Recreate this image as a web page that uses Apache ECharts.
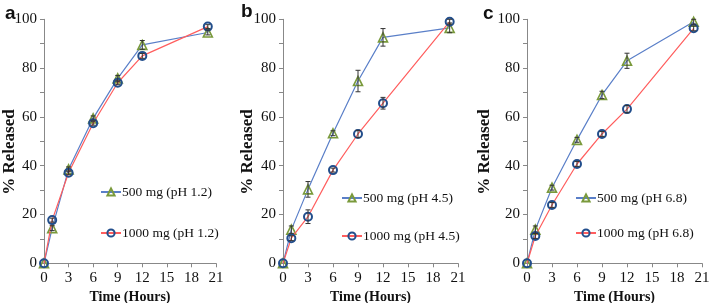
<!DOCTYPE html>
<html><head><meta charset="utf-8">
<script src="https://cdn.jsdelivr.net/npm/echarts@6/dist/echarts.min.js"></script>
<style>html,body{margin:0;padding:0;background:#fff}#c{width:709px;height:303px}</style>
</head><body><div id="c"></div>
<script>
var times = [0, 1, 3, 6, 9, 12, 20];
var panelLetters = ['a', 'b', 'c'];
var seriesNames500 = ['500 mg (pH 1.2)', '500 mg (pH 4.5)', '500 mg (pH 6.8)'];
var seriesNames1000 = ['1000 mg (pH 1.2)', '1000 mg (pH 4.5)', '1000 mg (pH 6.8)'];
var a500 = [0, 14.4, 38.5, 59.4, 75.8, 89.5, 94.6];
var a1000 = [0, 17.7, 37.1, 57.4, 74, 85, 97];
var b500 = [0, 13.8, 30.3, 53.3, 74.7, 92.6, 96.5];
var b1000 = [0, 10.3, 19.1, 38.2, 53, 65.6, 99];
var c500 = [0, 13.8, 31, 50.6, 69, 83, 99];
var c1000 = [0, 11.2, 23.9, 40.7, 53, 63.2, 96.3];
var a500err = [0, 1, 1, 1, 1.2, 1.8, 1];
var a1000err = [0, 0.8, 0.8, 0.8, 0.8, 1, 0.8];
var b500err = [0, 1.5, 3.2, 1, 4.4, 3.6, 2];
var b1000err = [0, 1, 2.8, 0.8, 1.5, 2.4, 1];
var c500err = [0, 1.5, 1, 1, 1.5, 3.1, 1];
var c1000err = [0, 1, 1, 1, 1, 1.5, 1];
var xTicks = [0, 3, 6, 9, 12, 15, 18, 21];
var yTicks = [0, 20, 40, 60, 80, 100];
var xAxisTitle = 'Time (Hours)';
var yAxisTitle = '% Released';

var vals500 = [a500, b500, c500];
var vals1000 = [a1000, b1000, c1000];
var errs500 = [a500err, b500err, c500err];
var errs1000 = [a1000err, b1000err, c1000err];

var FONT = "'Liberation Serif','Times New Roman',serif";
var grids = [
  {left: 44, top: 19.3, width: 172, height: 244},
  {left: 283, top: 19.3, width: 175, height: 244},
  {left: 527, top: 19.3, width: 175, height: 244}
];
var yNameX = [9.5, 247.5, 485];
var letterPos = [{left: 0, top: -1}, {left: 236, top: -3}, {left: 478, top: -1}];
var legendPos = [{left: 100, top: 185, gap: 27}, {left: 341, top: 191, gap: 24}, {left: 575, top: 191, gap: 21}];

var option = {
  animation: false,
  backgroundColor: '#fff',
  title: [], grid: [], xAxis: [], yAxis: [], legend: [], series: [], graphic: []
};

function pairs(vals) { return times.map(function (t, i) { return [t, vals[i]]; }); }
function errData(vals, errs) { return times.map(function (t, i) { return [t, vals[i], errs[i]]; }); }

function renderErr(params, api) {
  var x = api.value(0), y = api.value(1), e = api.value(2);
  if (!e) return null;
  var hi = api.coord([x, y + e]);
  var lo = api.coord([x, y - e]);
  var w = 2.5;
  var st = {stroke: '#333', lineWidth: 1};
  return {type: 'group', children: [
    {type: 'line', shape: {x1: hi[0], y1: hi[1], x2: lo[0], y2: lo[1]}, style: st},
    {type: 'line', shape: {x1: hi[0] - w, y1: hi[1], x2: hi[0] + w, y2: hi[1]}, style: st},
    {type: 'line', shape: {x1: lo[0] - w, y1: lo[1], x2: lo[0] + w, y2: lo[1]}, style: st}
  ]};
}

for (var p = 0; p < 3; p++) {
  option.title.push({text: panelLetters[p], left: letterPos[p].left, top: letterPos[p].top,
    textStyle: {fontFamily: 'Liberation Sans, Arial, sans-serif', fontWeight: 'bold', fontSize: 19, color: '#111'}});
  option.grid.push({left: grids[p].left, top: grids[p].top, width: grids[p].width, height: grids[p].height,
    containLabel: false, outerBoundsMode: 'none'});
  option.graphic.push({
    type: 'text', x: yNameX[p], y: 152, rotation: Math.PI / 2, silent: true,
    style: {text: yAxisTitle, fill: '#111', font: 'bold 17px ' + FONT, align: 'center', verticalAlign: 'middle'}
  });
  option.xAxis.push({
    type: 'value', gridIndex: p, min: 0, max: 21, interval: 3,
    name: xAxisTitle, nameLocation: 'middle', nameGap: 24,
    nameTextStyle: {fontFamily: FONT, fontWeight: 'bold', fontSize: 14, color: '#111'},
    axisLine: {show: true, lineStyle: {color: '#888', width: 1}},
    axisTick: {show: true, length: 4, lineStyle: {color: '#888'}},
    axisLabel: {fontFamily: FONT, fontSize: 15, color: '#111', margin: 7,
      formatter: function (v) { return xTicks.indexOf(v) >= 0 ? String(v) : ''; }},
    splitLine: {show: false}
  });
  option.yAxis.push({
    type: 'value', gridIndex: p, min: 0, max: 100, interval: 10,
    axisLine: {show: true, lineStyle: {color: '#888', width: 1}},
    axisTick: {show: true, length: 4, lineStyle: {color: '#888'}},
    axisLabel: {fontFamily: FONT, fontSize: 15, color: '#111', margin: 7,
      formatter: function (v) { return yTicks.indexOf(v) >= 0 ? String(v) : ''; }},
    splitLine: {show: false}
  });
  option.legend.push({
    orient: 'vertical', left: legendPos[p].left, top: legendPos[p].top,
    itemGap: legendPos[p].gap, itemWidth: 20, itemHeight: 9, padding: 0,
    data: [seriesNames500[p], seriesNames1000[p]],
    textStyle: {fontFamily: FONT, fontSize: 13.5, color: '#111', padding: [0, 0, 0, -4]}
  });
  option.series.push({
    name: seriesNames500[p], type: 'line', xAxisIndex: p, yAxisIndex: p,
    data: pairs(vals500[p]), symbol: 'triangle', symbolSize: 9,
    lineStyle: {color: '#5A7FC8', width: 1.2},
    itemStyle: {color: 'rgba(0,0,0,0)', borderColor: '#7A9A3C', borderWidth: 1.6}, z: 2
  });
  option.series.push({
    name: seriesNames1000[p], type: 'line', xAxisIndex: p, yAxisIndex: p,
    data: pairs(vals1000[p]), symbol: 'circle', symbolSize: 8,
    lineStyle: {color: '#FF5E5E', width: 1.2},
    itemStyle: {color: 'rgba(0,0,0,0)', borderColor: '#224E8C', borderWidth: 2}, z: 3
  });
  option.series.push({
    type: 'custom', xAxisIndex: p, yAxisIndex: p, renderItem: renderErr,
    data: errData(vals500[p], errs500[p]), z: 4, silent: true
  });
  option.series.push({
    type: 'custom', xAxisIndex: p, yAxisIndex: p, renderItem: renderErr,
    data: errData(vals1000[p], errs1000[p]), z: 4, silent: true
  });
}

var chart = echarts.init(document.getElementById('c'), null, {renderer: 'canvas'});
chart.setOption(option);
</script>
</body></html>
